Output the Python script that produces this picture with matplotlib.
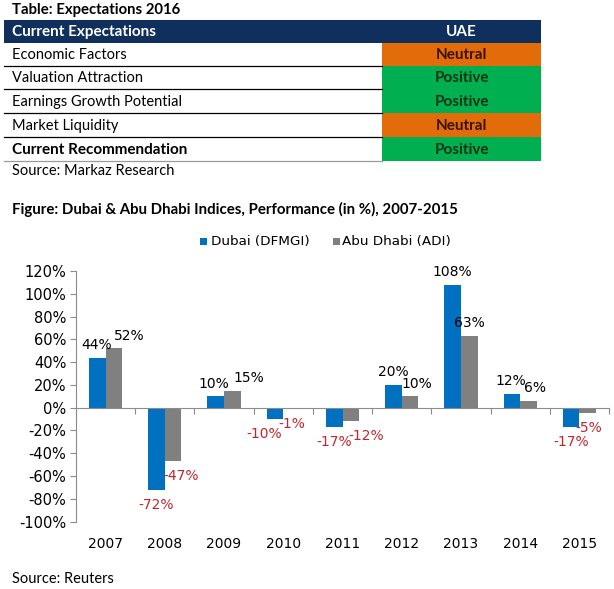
import numpy as np
import matplotlib
matplotlib.use('Agg')
import matplotlib.pyplot as plt
from matplotlib.patches import Rectangle

## Data ##
table_title = 'Table: Expectations 2016'
table_header = ['Current Expectations', 'UAE']
table_rows = ['Economic Factors', 'Valuation Attraction', 'Earnings Growth Potential',
              'Market Liquidity', 'Current Recommendation']
table_uae = ['Neutral', 'Positive', 'Positive', 'Neutral', 'Positive']
table_source = 'Source: Markaz Research'

chart_title = 'Figure: Dubai & Abu Dhabi Indices, Performance (in %), 2007-2015'
years = ['2007', '2008', '2009', '2010', '2011', '2012', '2013', '2014', '2015']
dubai = [44, -72, 10, -10, -17, 20, 108, 12, -17]
abu_dhabi = [52, -47, 15, -1, -12, 10, 63, 6, -5]
series_names = ['Dubai (DFMGI)', 'Abu Dhabi (ADI)']
chart_source = 'Source: Reuters'

## Styles ##
W, H = 614, 589
blue = '#0070C0'
grey = '#808080'
navy = '#0F2F5C'
cell_colors = {'Neutral': '#E36C0A', 'Positive': '#00B050'}
cell_text = {'Neutral': '#3A1200', 'Positive': '#0A3214'}
neg_red = '#C0272D'
axis_grey = '#8C8C8C'
tfont = 'Lato'
cfont = 'DejaVu Sans'

# label nudges (pixels) to mimic the excel layout
blue_dx = [-1, 0, -2, -11, 0, 0, 0, -1, 0]
grey_dx = [15, 8, 16, 0, 15, 7, 0, 7, 1]

fig = plt.figure(figsize=(W / 100, H / 100), dpi=100)
fig.patch.set_facecolor('white')

# background axes in pixel coordinates
bg = fig.add_axes([0, 0, 1, 1])
bg.set_xlim(0, W)
bg.set_ylim(H, 0)
bg.axis('off')

## Table ##
bg.text(12, 10, table_title, fontfamily=tfont, fontweight='bold', fontsize=10.75,
        va='center', ha='left', color='black')
bg.add_patch(Rectangle((4, 19.5), 537, 23.2, facecolor=navy, edgecolor='none'))
bg.text(12.5, 32, table_header[0], fontfamily=tfont, fontweight='bold', fontsize=11,
        va='center', ha='left', color='white')
bg.text(461, 32, table_header[1], fontfamily=tfont, fontweight='bold', fontsize=11,
        va='center', ha='center', color='white')

row_edges = [42.7, 65.7, 89.3, 113.3, 136.7, 160.7]
for i, (name, val) in enumerate(zip(table_rows, table_uae)):
    y0, y1 = row_edges[i], row_edges[i + 1]
    bg.add_patch(Rectangle((382, y0), 159, y1 - y0, facecolor=cell_colors[val], edgecolor='none'))
    last = i == len(table_rows) - 1
    bg.text(12.5, (y0 + y1) / 2 + 1, name, fontfamily=tfont,
            fontweight='bold' if last else 'normal', fontsize=11 if last else 10.5,
            va='center', ha='left', color='black')
    bg.text(461.5, (y0 + y1) / 2 + 1, val, fontfamily=tfont, fontweight='bold', fontsize=11,
            va='center', ha='center', color=cell_text[val])
    lc = '#9A9A9A' if last else 'black'
    bg.plot([4, 382], [y1, y1], color=lc, lw=0.9)
bg.text(12.5, 171, table_source, fontfamily=tfont, fontsize=10.5, va='center', ha='left')

## Chart title, legend, source ##
bg.text(12, 209, chart_title, fontfamily=tfont, fontweight='bold', fontsize=10.8,
        va='center', ha='left')
bg.add_patch(Rectangle((200, 238), 7, 7, facecolor=blue, edgecolor='none'))
bg.text(211, 241.5, series_names[0], fontfamily=cfont, fontsize=9.7, va='center', ha='left')
bg.add_patch(Rectangle((333, 238), 7, 7, facecolor=grey, edgecolor='none'))
bg.text(342, 241.5, series_names[1], fontfamily=cfont, fontsize=9.7, va='center', ha='left')
bg.text(12, 579, chart_source, fontfamily=tfont, fontsize=10.5, va='center', ha='left')

## Bar chart ##
left, right, top, bottom = 76, 609, 271, 521.5
ax = fig.add_axes([left / W, 1 - bottom / H, (right - left) / W, (bottom - top) / H])
ax.patch.set_alpha(0)

x = np.arange(len(years))
bw = 0.28
ax.bar(x - bw / 2, dubai, bw, color=blue)
ax.bar(x + bw / 2, abu_dhabi, bw, color=grey)

ax.set_xlim(-0.5, len(years) - 0.5)
ax.set_ylim(-100, 120)
ax.set_yticks(np.arange(-100, 121, 20))
ax.set_yticklabels([f'{v}%' for v in range(-100, 121, 20)], fontfamily=cfont, fontsize=10.5)
ax.set_xticks(np.arange(-0.5, len(years), 1))
ax.set_xticklabels([])

for s in ['top', 'right']:
    ax.spines[s].set_visible(False)
ax.spines['left'].set_color(axis_grey)
ax.spines['bottom'].set_color(axis_grey)
ax.spines['bottom'].set_position(('data', 0))
ax.tick_params(axis='y', length=4, color=axis_grey, pad=3)
ax.tick_params(axis='x', length=4, color=axis_grey)

for i, yr in enumerate(years):
    ax.text(i, -0.09, yr, transform=ax.get_xaxis_transform(), ha='center', va='center',
            fontfamily=cfont, fontsize=10)

# data labels
def add_labels(xpos, vals, nudges):
    for xi, v, dx in zip(xpos, vals, nudges):
        if v >= 0:
            dy, col = 12.5, 'black'
        else:
            dy, col = -15, neg_red
        ax.annotate(f'{v}%', (xi, v), xytext=(dx * 0.72, dy * 0.72), textcoords='offset points',
                    ha='center', va='center', fontfamily=cfont, fontsize=10, color=col)

add_labels(x - bw / 2, dubai, blue_dx)
add_labels(x + bw / 2, abu_dhabi, grey_dx)

fig.savefig('out.png', dpi=100)
